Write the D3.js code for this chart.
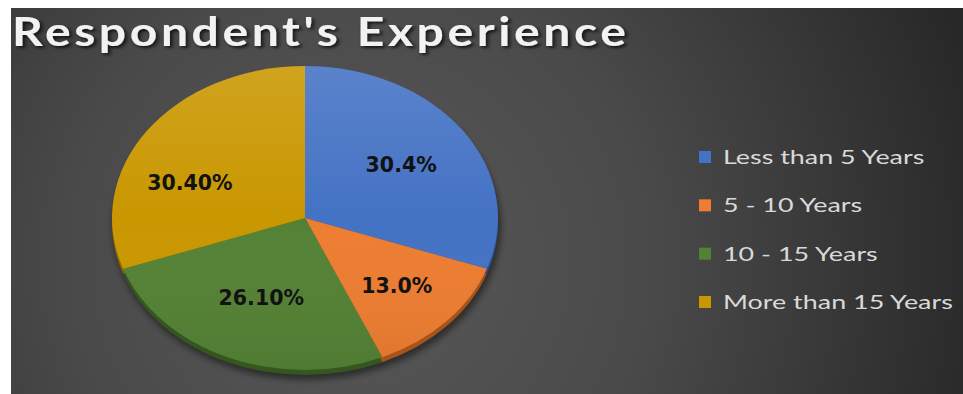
<!DOCTYPE html>
<html>
<head>
<meta charset="utf-8">
<script src="https://cdn.jsdelivr.net/npm/d3@7"></script>
<style>
  html, body { margin: 0; padding: 0; background: #ffffff; }
  svg { display: block; }
</style>
</head>
<body>
<svg id="chart" width="963" height="394"></svg>
<script>
// Experience bands of the survey respondents
const categories = ["Less than 5 Years", "5 - 10 Years", "10 - 15 Years", "More than 15 Years"];
const shares = [30.4, 13.0, 26.1, 30.4];
const labelTexts = ["30.4%", "13.0%", "26.10%", "30.40%"];
const sliceColors = ["#4472c4", "#ed7d31", "#548235", "#c99700"];
const sideColors = ["#2c4f8f", "#a8531a", "#35561f", "#8a6700"];

const W = 963, H = 394;
const svg = d3.select("#chart");
const defs = svg.append("defs");

// dark radial backdrop
const bg = defs.append("radialGradient").attr("id", "bg")
  .attr("gradientUnits", "userSpaceOnUse")
  .attr("cx", 360).attr("cy", 260).attr("r", 640);
bg.append("stop").attr("offset", "0").attr("stop-color", "#585858");
bg.append("stop").attr("offset", "0.45").attr("stop-color", "#4a4a4a");
bg.append("stop").attr("offset", "1").attr("stop-color", "#282828");

svg.append("rect").attr("x", 11).attr("y", 8)
  .attr("width", W - 11).attr("height", H - 8).attr("fill", "url(#bg)");

// soft shadows
const sh = defs.append("filter").attr("id", "pieShadow")
  .attr("x", "-20%").attr("y", "-20%").attr("width", "140%").attr("height", "140%");
sh.append("feGaussianBlur").attr("stdDeviation", 3);

const ts = defs.append("filter").attr("id", "titleShadow")
  .attr("x", "-5%").attr("y", "-30%").attr("width", "110%").attr("height", "160%");
ts.append("feDropShadow").attr("dx", 2).attr("dy", 2).attr("stdDeviation", 1.6)
  .attr("flood-color", "#000").attr("flood-opacity", 0.75);

// gentle top-to-bottom sheen over the pie face
const sheen = defs.append("linearGradient").attr("id", "sheen")
  .attr("x1", 0).attr("y1", 0).attr("x2", 0).attr("y2", 1);
sheen.append("stop").attr("offset", "0").attr("stop-color", "#ffffff").attr("stop-opacity", 0.12);
sheen.append("stop").attr("offset", "0.5").attr("stop-color", "#ffffff").attr("stop-opacity", 0);
sheen.append("stop").attr("offset", "1").attr("stop-color", "#000000").attr("stop-opacity", 0.06);

// title, set in a slightly widened, tracked-out face
const titleScale = 1.2;
svg.append("text")
  .attr("transform", `translate(12,46) scale(${titleScale},1)`)
  .attr("font-family", "Lato, 'Open Sans', sans-serif")
  .attr("font-weight", 700)
  .attr("font-size", 40)
  .attr("fill", "#f2f2f2")
  .attr("textLength", 614 / titleScale)
  .attr("lengthAdjust", "spacing")
  .attr("filter", "url(#titleShadow)")
  .text("Respondent's Experience");

// tilted pie: a circular layout squashed vertically
const cx = 305, cy = 218, rx = 193, ry = 152, depth = 5;
const pie = d3.pie().sort(null).value(d => d);
const arcs = pie(shares);
const arc = d3.arc().innerRadius(0).outerRadius(rx);

const tilt = `scale(1,${ry / rx})`;

// shadow under the pie
svg.append("ellipse")
  .attr("cx", cx + 2).attr("cy", cy + depth + 4)
  .attr("rx", rx + 1).attr("ry", ry + 1)
  .attr("fill", "#000").attr("opacity", 0.45)
  .attr("filter", "url(#pieShadow)");

// side band
svg.append("g").attr("transform", `translate(${cx},${cy + depth}) ${tilt}`)
  .selectAll("path").data(arcs).join("path")
  .attr("d", arc)
  .attr("fill", (d, i) => sideColors[i]);

// top face
const face = svg.append("g").attr("transform", `translate(${cx},${cy}) ${tilt}`);
face.selectAll("path").data(arcs).join("path")
  .attr("d", arc)
  .attr("fill", (d, i) => sliceColors[i]);
face.append("circle").attr("r", rx).attr("fill", "url(#sheen)");

// value labels
const labelRadius = [0.61, 0.65, 0.57, 0.64];
const labelTurn = [0, 0, 0, -14];
svg.append("g").selectAll("text").data(arcs).join("text")
  .attr("x", (d, i) => {
    const a = (d.startAngle + d.endAngle) / 2 + labelTurn[i] * Math.PI / 180;
    return cx + rx * labelRadius[i] * Math.sin(a);
  })
  .attr("y", (d, i) => {
    const a = (d.startAngle + d.endAngle) / 2 + labelTurn[i] * Math.PI / 180;
    return cy - ry * labelRadius[i] * Math.cos(a);
  })
  .attr("dy", "0.36em")
  .attr("text-anchor", "middle")
  .attr("font-family", "'DejaVu Sans', Verdana, sans-serif")
  .attr("font-weight", 700)
  .attr("font-size", 20.5)
  .attr("fill", "#121212")
  .text((d, i) => labelTexts[i]);

// legend
const legend = svg.append("g").attr("transform", "translate(699,0)");
const rowY = d3.scalePoint().domain(categories).range([157, 302]);
const item = legend.selectAll("g").data(categories).join("g")
  .attr("transform", d => `translate(0,${rowY(d)})`);
item.append("rect")
  .attr("x", 0).attr("y", -6).attr("width", 12).attr("height", 12)
  .attr("fill", (d, i) => sliceColors[i]);
item.append("text")
  .attr("transform", "translate(24,0) scale(1.38,1)")
  .attr("dy", "0.36em")
  .attr("font-family", "Lato, 'Open Sans', sans-serif")
  .attr("font-size", 19.5)
  .attr("fill", "#d9d9d9")
  .text(d => d);
</script>
</body>
</html>
